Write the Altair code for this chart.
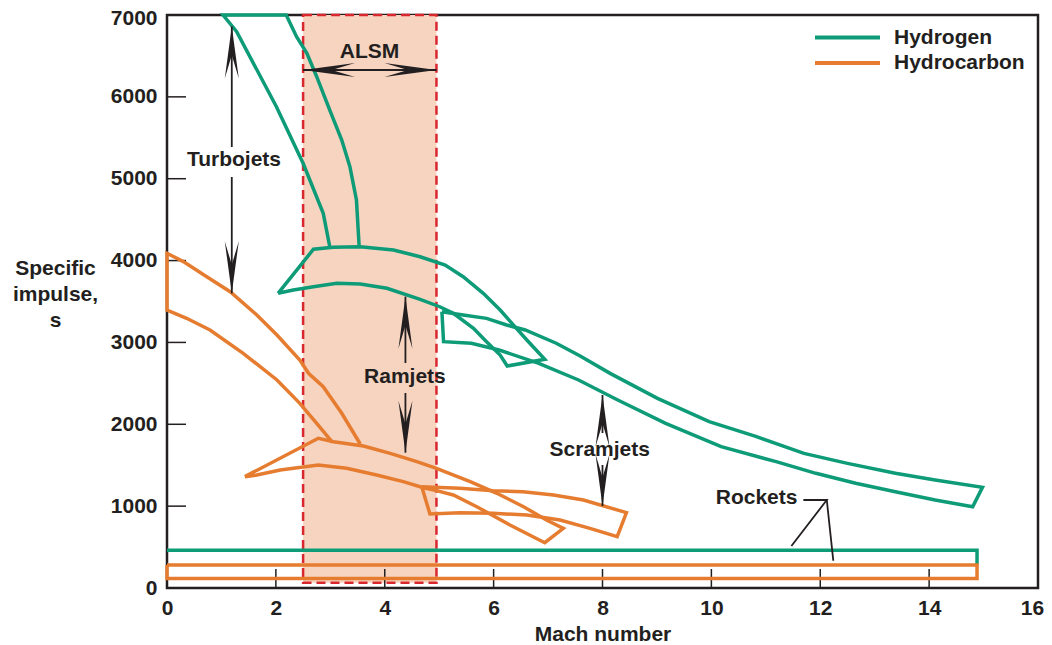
import altair as alt
import pandas as pd

GREEN = "#0e9b77"
ORANGE = "#e57c30"
PEACH = "#f7d4c0"
RED = "#d9272e"
INK = "#231f20"
FONT = "Liberation Sans"
FS = 21

# ---------------- data ----------------
fuels = ["Hydrogen", "Hydrocarbon"]

# Hydrogen turbojet (open band joined to the ramjet top edge)
h2_turbo_mach = [2.99, 2.87, 2.50, 2.01, 1.28, 1.03, 2.19, 2.38, 2.57, 2.75, 2.99, 3.21, 3.36, 3.48, 3.53]
h2_turbo_isp = [4169, 4577, 5188, 5880, 6796, 7000, 7000, 6735, 6532, 6246, 5839, 5473, 5147, 4740, 4169]

# Hydrogen ramjet (closed)
h2_ram_mach = [2.04, 2.69, 3.05, 3.55, 4.16, 4.65, 5.11, 5.44, 5.81, 6.12, 6.39, 6.61, 6.94, 6.25,
               6.12, 5.87, 5.63, 5.26, 5.01, 4.65, 4.04, 3.55, 3.12, 2.69, 2.32, 2.04]
h2_ram_isp = [3600, 4138, 4162, 4170, 4129, 4047, 3946, 3803, 3600, 3396, 3192, 3030, 2794, 2712,
              2846, 3009, 3172, 3356, 3436, 3527, 3661, 3714, 3722, 3681, 3640, 3600]

# Hydrogen scramjet (closed)
h2_scram_mach = [5.05, 5.44, 5.87, 6.24, 6.58, 7.15, 7.59, 8.14, 9.01, 9.96, 10.83, 11.70, 12.50, 13.38, 14.11, 14.98,
                 14.80, 14.11, 13.38, 12.65, 11.92, 11.19, 10.18, 9.16, 8.28, 7.56, 6.83, 6.10, 5.59, 5.08, 5.05]
h2_scram_isp = [3376, 3335, 3294, 3213, 3152, 2990, 2834, 2622, 2317, 2032, 1849, 1645, 1523, 1401, 1319, 1230,
                993, 1075, 1176, 1279, 1401, 1543, 1726, 2012, 2297, 2541, 2745, 2907, 2989, 3009, 3376]

# Hydrogen rocket
h2_rocket_mach = [0, 14.88, 14.88]
h2_rocket_isp = [462, 462, 285]

# Hydrocarbon turbojet (open band joined to the ramjet top edge)
hc_turbo_mach = [3.04, 2.75, 2.44, 2.02, 1.40, 0.79, 0.36, 0.0, 0.0, 0.30, 0.73, 1.16, 1.65, 2.02, 2.44, 2.60, 2.87, 3.21, 3.55]
hc_turbo_isp = [1780, 2012, 2256, 2541, 2867, 3152, 3295, 3396, 4089, 3987, 3803, 3620, 3335, 3091, 2785, 2623, 2459, 2134, 1759]

# Hydrocarbon ramjet (closed)
hc_ram_mach = [1.43, 2.78, 3.06, 3.61, 4.10, 4.59, 4.95, 5.57, 6.06, 6.55, 6.97, 7.28, 6.94,
               6.30, 5.69, 5.26, 4.95, 4.71, 4.34, 3.85, 3.30, 2.78, 2.08, 1.65, 1.43]
hc_ram_isp = [1360, 1829, 1787, 1735, 1645, 1543, 1462, 1299, 1157, 993, 831, 729, 553,
              770, 993, 1136, 1190, 1225, 1299, 1380, 1462, 1503, 1441, 1380, 1360]

# Hydrocarbon scramjet (closed)
hc_scram_mach = [4.68, 5.38, 5.99, 6.54, 7.10, 7.65, 8.44, 8.27, 7.77, 7.22, 6.61, 5.99, 5.38, 4.83, 4.68]
hc_scram_isp = [1238, 1218, 1189, 1176, 1136, 1075, 920, 627, 729, 831, 892, 912, 920, 904, 1238]

# Hydrocarbon rocket (closed)
hc_rocket_mach = [0, 14.88, 14.88, 0, 0]
hc_rocket_isp = [281, 281, 115, 115, 281]

# ALSM band
alsm_mach = [2.5, 4.95]
alsm_isp = [65, 7000]

# Annotation arrows (shaft segments) and their heads
arrow_ids = ["turbo_a", "turbo_b", "ram_a", "ram_b", "scram_a", "scram_b", "alsm"]
arrow_m0 = [1.19, 1.19, 4.38, 4.38, 8.0, 8.0, 2.5]
arrow_i0 = [6860, 5021, 3559, 2382, 2358, 1503, 6328]
arrow_m1 = [1.19, 1.19, 4.38, 4.38, 8.0, 8.0, 4.95]
arrow_i1 = [5387, 3600, 2749, 1653, 1893, 1002, 6328]

head_mach = [1.19, 1.19, 4.38, 4.38, 8.0, 8.0, 2.5, 4.95]
head_isp = [6860, 3600, 3559, 1653, 2358, 1002, 6328, 6328]
head_dir = ["up", "down", "up", "down", "up", "down", "left", "right"]

# Rocket leader lines
leader_id = ["a", "a", "a", "b", "b"]
leader_mach = [11.69, 12.12, 11.47, 12.12, 12.24]
leader_isp = [1075, 1075, 513, 1075, 333]

label_text = ["ALSM", "Turbojets", "Ramjets", "Scramjets", "Rockets"]
label_mach = [3.72, 1.23, 4.37, 7.95, 10.83]
label_isp = [6551, 5229, 2581, 1686, 1096]

x_ticks = [0, 2, 4, 6, 8, 10, 12, 14, 16]
y_ticks = [0, 1000, 2000, 3000, 4000, 5000, 6000, 7000]
x_inner_ticks = [2, 4, 6, 8, 10, 12, 14]
y_inner_ticks = [1000, 2000, 3000, 4000, 5000, 6000]

# ---------------- tables ----------------
rows = []
def add(name, fuel, ms, ys):
    for i, (m, v) in enumerate(zip(ms, ys)):
        rows.append({"shape": name, "fuel": fuel, "i": i, "mach": m, "isp": v})

add("h2_turbo", "Hydrogen", h2_turbo_mach, h2_turbo_isp)
add("h2_ram", "Hydrogen", h2_ram_mach, h2_ram_isp)
add("h2_scram", "Hydrogen", h2_scram_mach, h2_scram_isp)
add("h2_rocket", "Hydrogen", h2_rocket_mach, h2_rocket_isp)
add("hc_turbo", "Hydrocarbon", hc_turbo_mach, hc_turbo_isp)
add("hc_ram", "Hydrocarbon", hc_ram_mach, hc_ram_isp)
add("hc_scram", "Hydrocarbon", hc_scram_mach, hc_scram_isp)
add("hc_rocket", "Hydrocarbon", hc_rocket_mach, hc_rocket_isp)
shapes = pd.DataFrame(rows)

arrows_rows = []
for a, m0, i0, m1, i1 in zip(arrow_ids, arrow_m0, arrow_i0, arrow_m1, arrow_i1):
    arrows_rows.append({"id": a, "i": 0, "mach": m0, "isp": i0})
    arrows_rows.append({"id": a, "i": 1, "mach": m1, "isp": i1})
arrows = pd.DataFrame(arrows_rows)
heads = pd.DataFrame({"mach": head_mach, "isp": head_isp, "dir": head_dir})
leaders = pd.DataFrame({"id": leader_id, "i": list(range(len(leader_id))), "mach": leader_mach, "isp": leader_isp})
labels = pd.DataFrame({"text": label_text, "mach": label_mach, "isp": label_isp})
alsm = pd.DataFrame({"m0": [alsm_mach[0]], "m1": [alsm_mach[1]], "i0": [alsm_isp[0]], "i1": [alsm_isp[1]]})

xs = alt.Scale(domain=[0, 16], nice=False, zero=False)
ys = alt.Scale(domain=[0, 7000], nice=False, zero=False)

x_axis = alt.Axis(values=x_ticks, title="Mach number", ticks=False, tickSize=0, domain=False, grid=False,
                  labelFlush=False, format="d",
                  labelOffset={"condition": {"test": "datum.value == 16", "value": -6}, "value": 0},
                  labelFont=FONT, labelFontSize=FS, labelFontWeight="bold", labelColor=INK, labelPadding=9,
                  titleFont=FONT, titleFontSize=FS, titleFontWeight="bold", titleColor=INK,
                  titleBaseline="alphabetic", titleY=52)
y_axis = alt.Axis(values=y_ticks, title=["Specific", "impulse,", "s"], ticks=False, tickSize=0, domain=False, grid=False,
                  labelFlush=False, format="d",
                  labelOffset={"condition": {"test": "datum.value == 7000", "value": 3}, "value": 0},
                  labelFont=FONT, labelFontSize=FS, labelFontWeight="bold", labelColor=INK, labelPadding=10,
                  titleFont=FONT, titleFontSize=FS, titleFontWeight="bold", titleColor=INK,
                  titleAngle=0, titleAlign="center", titleBaseline="alphabetic",
                  titleX=-112, titleY=259, titleLineHeight=26)

band = alt.Chart(alsm).mark_rect(fill=PEACH, stroke=RED, strokeWidth=2.5, strokeDash=[9, 5]).encode(
    x=alt.X("m0:Q", scale=xs, axis=x_axis), x2="m1:Q",
    y=alt.Y("i0:Q", scale=ys, axis=y_axis), y2="i1:Q",
)

xt = alt.Chart(pd.DataFrame({"v": x_inner_ticks})).mark_rule(color=INK, strokeWidth=1.5).encode(
    x=alt.X("v:Q", scale=xs), y=alt.value(573), y2=alt.value(554))
yt = alt.Chart(pd.DataFrame({"v": y_inner_ticks})).mark_rule(color=INK, strokeWidth=1.5).encode(
    y=alt.Y("v:Q", scale=ys), x=alt.value(0), x2=alt.value(19))

lines = alt.Chart(shapes).mark_line(strokeWidth=3.5, strokeJoin="miter", strokeMiterLimit=3).encode(
    x=alt.X("mach:Q", scale=xs),
    y=alt.Y("isp:Q", scale=ys),
    color=alt.Color("fuel:N", scale=alt.Scale(domain=fuels, range=[GREEN, ORANGE]), legend=None),
    detail="shape:N",
    order="i:Q",
)

arrow_lines = alt.Chart(arrows).mark_line(color=INK, strokeWidth=1.8).encode(
    x=alt.X("mach:Q", scale=xs), y=alt.Y("isp:Q", scale=ys), detail="id:N", order="i:Q")

head_paths = {
    "up": "M0,0 L0.27,2 L0,1.1 L-0.27,2 Z",
    "down": "M0,0 L0.27,-2 L0,-1.1 L-0.27,-2 Z",
    "left": "M0,0 L2,0.27 L1.1,0 L2,-0.27 Z",
    "right": "M0,0 L-2,0.27 L-1.1,0 L-2,-0.27 Z",
}
arrow_heads = alt.Chart(heads).mark_point(filled=True, color=INK, opacity=1, strokeWidth=0, size=2700).encode(
    x=alt.X("mach:Q", scale=xs), y=alt.Y("isp:Q", scale=ys),
    shape=alt.Shape("dir:N", scale=alt.Scale(domain=list(head_paths.keys()), range=list(head_paths.values())), legend=None),
)

leader_lines = alt.Chart(leaders).mark_line(color=INK, strokeWidth=1.8).encode(
    x=alt.X("mach:Q", scale=xs), y=alt.Y("isp:Q", scale=ys), detail="id:N", order="i:Q")

texts = alt.Chart(labels).mark_text(font=FONT, fontSize=FS, fontWeight="bold", color=INK,
                                    align="center", baseline="middle").encode(
    x=alt.X("mach:Q", scale=xs), y=alt.Y("isp:Q", scale=ys), text="text:N")

legend_layers = []
for k, (name, col) in enumerate(zip(fuels, [GREEN, ORANGE])):
    yy = 22.5 + 25.5 * k
    legend_layers.append(
        alt.Chart(pd.DataFrame({"name": [name]})).mark_rule(color=col, strokeWidth=4).encode(
            x=alt.value(648), x2=alt.value(713), y=alt.value(yy)))
    legend_layers.append(
        alt.Chart(pd.DataFrame({"name": [name]})).mark_text(font=FONT, fontSize=FS, fontWeight="bold", color=INK,
                                                            align="left", baseline="middle").encode(
            x=alt.value(727), y=alt.value(yy), text="name:N"))

chart = alt.layer(band, xt, yt, lines, arrow_lines, arrow_heads, leader_lines, texts, *legend_layers).properties(
    width=871, height=573,
    autosize=alt.AutoSizeParams(type="none"),
    padding={"left": 159, "top": 7, "right": 6, "bottom": 55},
).configure_view(stroke=INK, strokeWidth=2.5)

chart.save("out.html", embed_options={"renderer": "svg", "actions": False})
